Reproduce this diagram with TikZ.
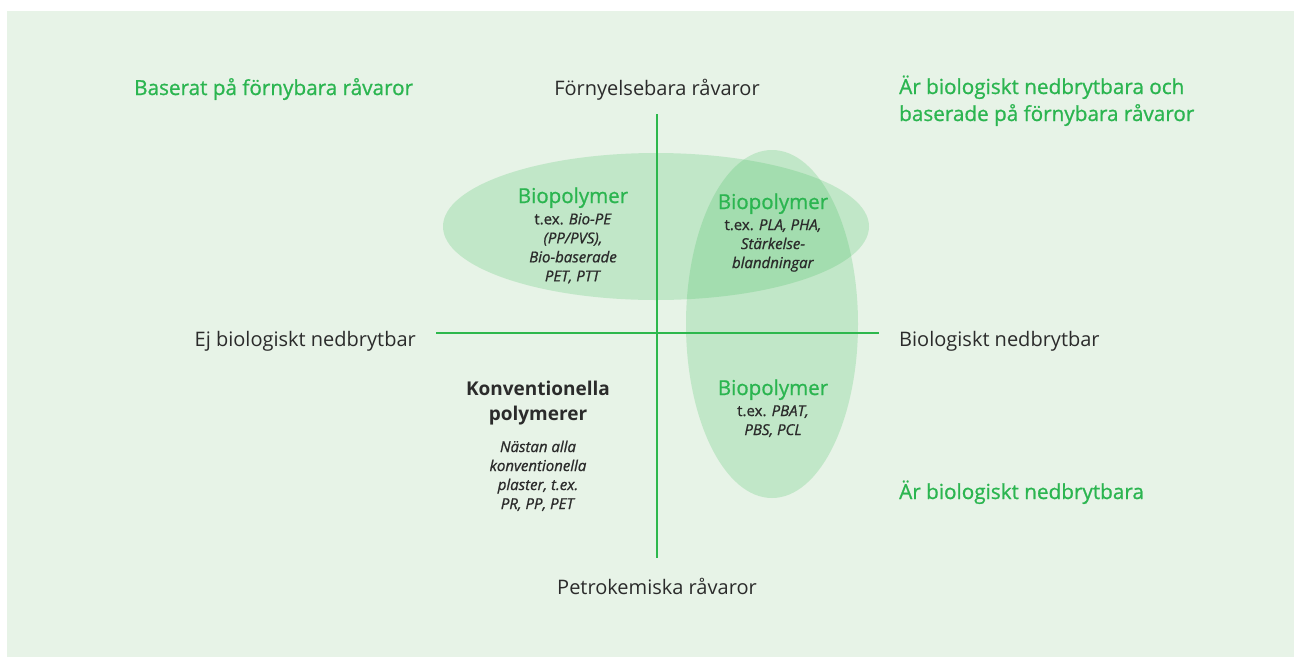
\documentclass[tikz,border=0pt]{standalone}
\usepackage{fontspec}
\setmainfont{Open Sans}
\newfontfamily\semifont{Open Sans}[FakeBold=0.9]
\usetikzlibrary{positioning}
\definecolor{bggreen}{HTML}{E7F3E7}
\definecolor{linegreen}{HTML}{2DB84D}
\definecolor{labelgreen}{HTML}{2BB550}
\definecolor{darktext}{HTML}{2B2B2B}

\begin{document}
\begin{tikzpicture}[x=1pt,y=-1pt,
				axis/.style={draw=linegreen,line width=2.8pt},
				blob/.style={fill=linegreen,fill opacity=0.2},
				axislabel/.style={font=\fontsize{20}{24}\selectfont,text=darktext,inner sep=0pt},
				cornerlabel/.style={font=\semifont\fontsize{20.7}{27}\selectfont,text=labelgreen,inner sep=0pt,align=left},
				polytitle/.style={font=\semifont\fontsize{20.5}{24}\selectfont,text=labelgreen,inner sep=0pt},
				polyexamples/.style={font=\semifont\fontsize{15}{19}\selectfont,text=darktext,inner sep=0pt,align=center,node distance=5pt}]
				% frame and background
				\useasboundingbox (0,0) rectangle (1294,657);
				\fill[bggreen] (7,11) rectangle (1294,657);
				
				% the two fields
				\fill[blob] (656,226.5) ellipse [x radius=213pt,y radius=73.5pt];
				\fill[blob] (772,324) ellipse [x radius=86pt,y radius=174pt];
				
				% axes
				\coordinate (top)    at (657,114);
				\coordinate (bottom) at (657,558);
				\coordinate (left)   at (436,333);
				\coordinate (right)  at (879,333);
				\draw[axis] (top) -- (bottom);
				\draw[axis] (left) -- (right);
				
				\node (UP)    [axislabel,anchor=base]      at (657,95)  {Förnyelsebara råvaror};
				\node (DOWN)  [axislabel,anchor=base]      at (657,594) {Petrokemiska råvaror};
				\node (WEST)  [axislabel,anchor=base east] at (416,346) {Ej biologiskt nedbrytbar};
				\node (EAST)  [axislabel,anchor=base west] at (899,346) {Biologiskt nedbrytbar};
				
				\node (RENEW) [cornerlabel,anchor=base west] at (134,95) {Baserat på förnybara råvaror};
				\node (BOTH)  [cornerlabel,anchor=base west] at (899,121) {Är biologiskt nedbrytbara och\\baserade på förnybara råvaror};
				\node (DEGR)  [cornerlabel,anchor=base west] at (899,499) {Är biologiskt nedbrytbara};
				
				\node (BIOA)  [polytitle,anchor=base] at (573,203) {Biopolymer};
				\node (BIOAx) [polyexamples,below=of BIOA] {t.ex. \textit{Bio-PE}\\\textit{(PP/PVS),}\\\textit{Bio-baserade}\\\textit{PET, PTT}};
				\node (BIOB)  [polytitle,anchor=base] at (773,209) {Biopolymer};
				\node (BIOBx) [polyexamples,below=of BIOB] {t.ex. \textit{PLA, PHA,}\\\textit{Stärkelse-}\\\textit{blandningar}};
				\node (BIOC)  [polytitle,anchor=base] at (773,395) {Biopolymer};
				\node (BIOCx) [polyexamples,below=of BIOC] {t.ex. \textit{PBAT,}\\\textit{PBS, PCL}};
				
				\node (CONV)  [polytitle,text=darktext,font=\fontsize{19}{25}\selectfont\bfseries,align=center,anchor=north] at (538,381) {Konventionella\\polymerer};
				\node (CONVx) [polyexamples,below=15pt of CONV] {\textit{Nästan alla}\\\textit{konventionella}\\\textit{plaster, t.ex.}\\\textit{PR, PP, PET}};
			\end{tikzpicture}
\end{document}
